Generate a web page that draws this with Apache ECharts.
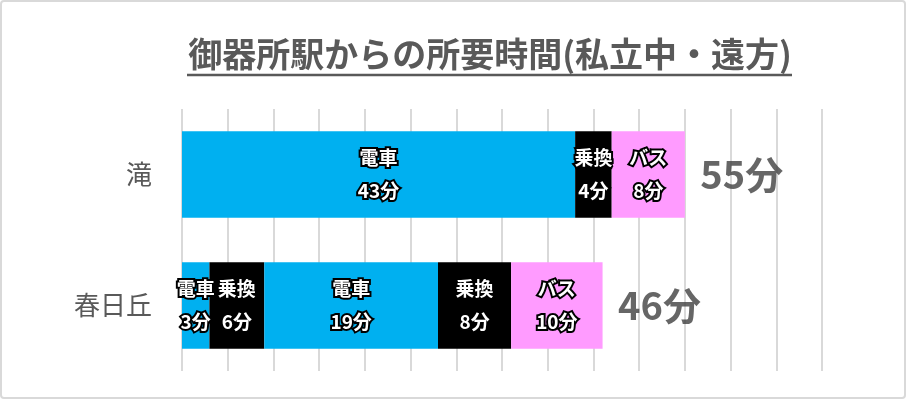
<!DOCTYPE html>
<html lang="ja">
<head>
    <meta charset="UTF-8">
    <title>御器所駅からの所要時間(私立中・遠方)</title>
    <script src="https://cdn.jsdelivr.net/npm/echarts@6.0.0/dist/echarts.min.js"></script>
    <style>
        html, body {
            margin: 0;
            padding: 0;
            background: #fff;
        }
        #chart {
            width: 906px;
            height: 399px;
            box-sizing: border-box;
            border: 2px solid #d9d9d9;
            border-radius: 4px;
        }
    </style>
</head>
<body>
    <div id="chart"></div>

    <script>
        // 行（上から）
        const schools = ['滝', '春日丘'];
        // 区間ごとの種類と所要時間（分）
        const legTypes = [
            ['電車', '乗換', 'バス'],
            ['電車', '乗換', '電車', '乗換', 'バス']
        ];
        const legMinutes = [
            [43, 4, 8],
            [3, 6, 19, 8, 10]
        ];
        const typeColors = { '電車': '#00b0f0', '乗換': '#000000', 'バス': '#ff9bff' };

        const totals = legMinutes.map(row => row.reduce((a, b) => a + b, 0));
        const maxLegs = Math.max(...legMinutes.map(row => row.length));

        // 区間ごとに積み上げ系列を作る
        const legSeries = [];
        for (let i = 0; i < maxLegs; i++) {
            legSeries.push({
                type: 'bar',
                stack: 'time',
                barWidth: '66%',
                data: schools.map((s, r) => {
                    if (i >= legMinutes[r].length) return '-';
                    return {
                        value: legMinutes[r][i],
                        name: legTypes[r][i],
                        itemStyle: { color: typeColors[legTypes[r][i]] }
                    };
                }),
                label: {
                    show: true,
                    position: 'inside',
                    formatter: p => p.name + '\n' + p.value + '分',
                    color: '#fff',
                    fontSize: 19,
                    fontWeight: 'bold',
                    lineHeight: 33,
                    fontFamily: 'Noto Sans CJK JP',
                    textBorderColor: '#000',
                    textBorderWidth: 4
                }
            });
        }

        const chart = echarts.init(document.getElementById('chart'));
        chart.setOption({
            animation: false,
            title: {
                text: '御器所駅からの所要時間(私立中・遠方)',
                left: 483,
                top: 30,
                textAlign: 'center',
                textStyle: {
                    fontFamily: 'Noto Sans CJK JP',
                    fontSize: 34,
                    fontWeight: 'bold',
                    color: '#595959'
                }
            },
            graphic: [{
                type: 'line',
                shape: { x1: 185, y1: 73, x2: 790, y2: 73 },
                style: { stroke: '#595959', lineWidth: 2.5 }
            }],
            grid: { left: 180, right: 82, top: 107, bottom: 26 },
            xAxis: {
                type: 'value',
                min: 0,
                max: 70,
                interval: 5,
                axisLabel: { show: false },
                axisLine: { show: false },
                axisTick: { show: false },
                splitLine: { lineStyle: { color: '#d9d9d9', width: 2 } }
            },
            yAxis: {
                type: 'category',
                inverse: true,
                data: schools,
                axisLine: { show: false },
                axisTick: { show: false },
                axisLabel: {
                    margin: 30,
                    fontSize: 26,
                    color: '#595959',
                    fontFamily: 'Noto Sans CJK JP'
                }
            },
            series: [
                ...legSeries,
                {
                    type: 'scatter',
                    symbolSize: 1,
                    itemStyle: { color: 'rgba(0,0,0,0)' },
                    data: schools.map((s, r) => [totals[r], s]),
                    label: {
                        show: true,
                        position: 'right',
                        distance: 15,
                        formatter: p => p.value[0] + '分',
                        fontSize: 38,
                        fontWeight: 'bold',
                        color: '#404040',
                        fontFamily: 'Noto Sans CJK JP'
                    }
                }
            ]
        });
    </script>
</body>
</html>
